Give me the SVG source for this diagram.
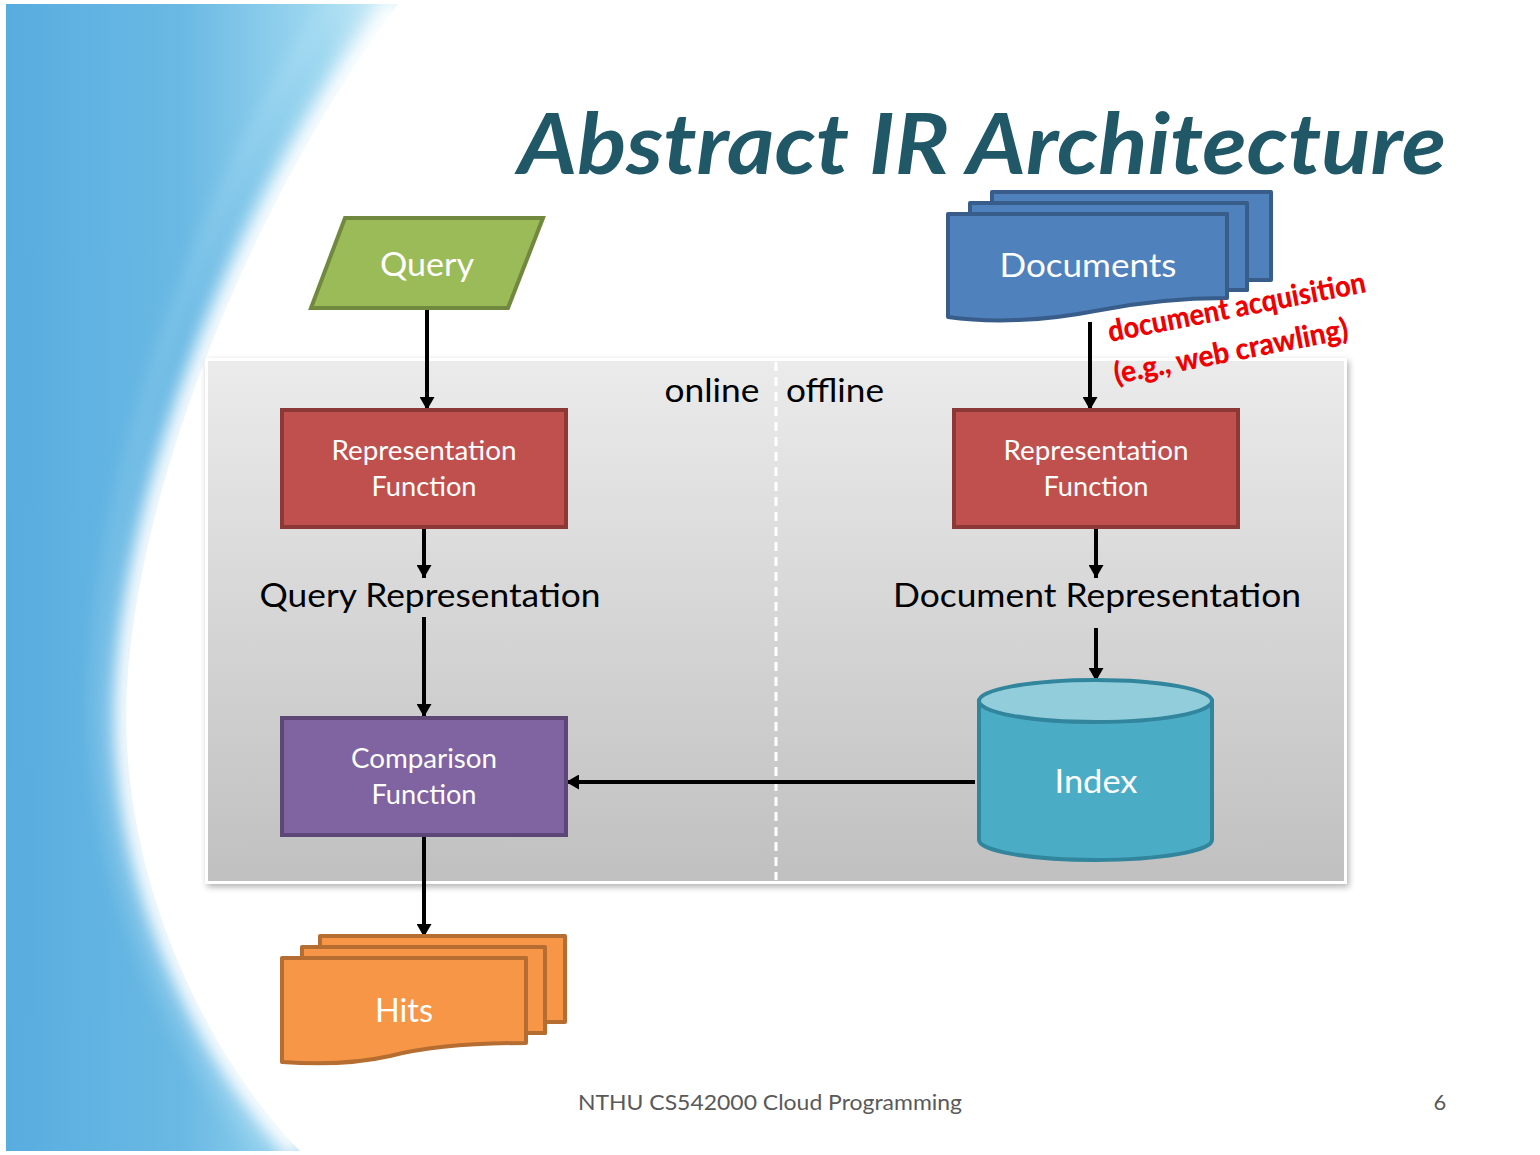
<svg xmlns="http://www.w3.org/2000/svg" width="1540" height="1155" viewBox="0 0 1540 1155">
<defs>
<linearGradient id="swoosh" gradientUnits="userSpaceOnUse" x1="6" y1="0" x2="400" y2="0">
<stop offset="0" stop-color="#58addf"/>
<stop offset="0.45" stop-color="#6ab9e4"/>
<stop offset="0.8" stop-color="#9fd8f0"/>
<stop offset="1" stop-color="#d8f1fa"/>
</linearGradient>
<linearGradient id="panel" x1="0" y1="0" x2="0" y2="1">
<stop offset="0" stop-color="#ebebeb"/>
<stop offset="1" stop-color="#c0c0c0"/>
</linearGradient>
<filter id="blur" x="-20%" y="-20%" width="140%" height="140%"><feGaussianBlur stdDeviation="9"/></filter>
<filter id="shadow" x="-5%" y="-5%" width="110%" height="110%"><feDropShadow dx="2" dy="3" stdDeviation="3" flood-color="#000" flood-opacity="0.3"/></filter>
<marker id="ah" markerWidth="13" markerHeight="15" refX="13" refY="7.5" orient="auto" markerUnits="userSpaceOnUse" viewBox="0 0 13 15">
<path d="M0,0 L13,7.5 L0,15 Z" fill="#000"/>
</marker>
<style>
.lbl{font-family:Lato,"Open Sans","Liberation Sans",sans-serif;fill:#fff;text-anchor:middle}
.blk{font-family:Lato,"Open Sans","Liberation Sans",sans-serif;fill:#000;text-anchor:middle}
.conn{stroke:#000;stroke-width:4;fill:none}
.arr{marker-end:url(#ah)}
.red{fill:#c0504d;stroke:#8c3836;stroke-width:4}
</style>
</defs>
<rect x="0" y="0" width="1540" height="1155" fill="#fff"/>
<g id="background">
<path d="M6,4 L398,4 C230,230 110,560 128,760 C140,920 220,1070 300,1151 L6,1151 Z" fill="url(#swoosh)"/>
<path d="M398,4 C230,230 110,560 128,760 C140,920 220,1070 300,1151" fill="none" stroke="#fff" stroke-width="26" filter="url(#blur)"/>
<path d="M330,4 C180,230 80,560 100,760 C112,920 190,1070 262,1151" fill="none" stroke="#cdeefa" stroke-width="6" opacity="0.5" filter="url(#blur)"/>
</g>
<text x="982" y="174" font-family="Lato,'Liberation Sans',sans-serif" font-weight="bold" font-style="italic" font-size="84" fill="#215868" text-anchor="middle" textLength="928" lengthAdjust="spacingAndGlyphs">Abstract IR Architecture</text>
<g id="panel-box">
<rect x="205" y="358" width="1142" height="526" fill="#fff" filter="url(#shadow)"/>
<rect x="208" y="361" width="1136" height="520" fill="url(#panel)"/>
<line x1="776" y1="362" x2="776" y2="880" stroke="#fff" stroke-width="3" stroke-dasharray="9,6"/>
<text x="712" y="402" class="blk" font-size="32" textLength="95" lengthAdjust="spacingAndGlyphs">online</text>
<text x="835" y="402" class="blk" font-size="32" textLength="98" lengthAdjust="spacingAndGlyphs">offline</text>
</g>
<g id="connectors">
<line class="conn arr" x1="427" y1="308" x2="427" y2="410"/>
<line class="conn arr" x1="424" y1="527" x2="424" y2="578"/>
<line class="conn arr" x1="424" y1="617" x2="424" y2="717"/>
<line class="conn arr" x1="424" y1="835" x2="424" y2="937"/>
<line class="conn arr" x1="1090" y1="322" x2="1090" y2="410"/>
<line class="conn arr" x1="1096" y1="527" x2="1096" y2="578"/>
<line class="conn arr" x1="1096" y1="628" x2="1096" y2="681"/>
<line class="conn arr" x1="975" y1="782" x2="566" y2="782"/>
</g>
<g id="query">
<path d="M345,218 L543,218 L508,308 L311,308 Z" fill="#9bbb59" stroke="#71893f" stroke-width="4"/>
<text x="427" y="276" class="lbl" font-size="32" textLength="94" lengthAdjust="spacingAndGlyphs">Query</text>
</g>
<g id="rep-func-query">
<rect x="282" y="410" width="284" height="117" class="red"/>
<text x="424" y="460" class="lbl" font-size="26" textLength="185" lengthAdjust="spacingAndGlyphs">Representation</text>
<text x="424" y="496" class="lbl" font-size="26" textLength="105" lengthAdjust="spacingAndGlyphs">Function</text>
</g>
<g id="query-representation">
<text x="430" y="607" class="blk" font-size="32" textLength="341" lengthAdjust="spacingAndGlyphs">Query Representation</text>
</g>
<g id="comparison-function">
<rect x="282" y="718" width="284" height="117" fill="#8064a2" stroke="#5c4776" stroke-width="4"/>
<text x="424" y="768" class="lbl" font-size="26" textLength="146" lengthAdjust="spacingAndGlyphs">Comparison</text>
<text x="424" y="804" class="lbl" font-size="26" textLength="105" lengthAdjust="spacingAndGlyphs">Function</text>
</g>
<g id="hits">
<g fill="#f79646" stroke="#b66d31" stroke-width="4" stroke-linejoin="round">
<path d="M320,936 L565,936 L565,1022 L545,1022 L545,1033 L526,1033 L526,958 L320,958 Z"/>
<path d="M302,947 L545,947 L545,1033 L526,1033 L526,958 L302,958 Z"/>
<path d="M282,958 L526,958 L526,1043 C480,1043 430,1046 390,1056 C350,1065 310,1064 282,1062 Z"/>
</g>
<text x="404" y="1022" class="lbl" font-size="32" textLength="58" lengthAdjust="spacingAndGlyphs">Hits</text>
</g>
<g id="documents">
<g fill="#4f81bd" stroke="#385d8a" stroke-width="4" stroke-linejoin="round">
<path d="M992,192 L1271,192 L1271,280 L1247,280 L1247,290 L1227,290 L1227,214 L992,214 Z"/>
<path d="M970,203 L1247,203 L1247,290 L1227,290 L1227,214 L970,214 Z"/>
<path d="M948,214 L1227,214 L1227,298 C1180,298 1140,302 1095,311 C1045,321 990,323 948,317 Z"/>
</g>
<text x="1088" y="277" class="lbl" font-size="32" textLength="177" lengthAdjust="spacingAndGlyphs">Documents</text>
</g>
<g id="doc-acquisition-label" font-family="Lato,'Open Sans','Liberation Sans',sans-serif" font-weight="900" font-size="30" fill="#f00000">
<text transform="translate(1110,342) rotate(-11)" textLength="262" lengthAdjust="spacingAndGlyphs">document acquisition</text>
<text transform="translate(1116,384) rotate(-11)" textLength="238" lengthAdjust="spacingAndGlyphs">(e.g., web crawling)</text>
</g>
<g id="rep-func-doc">
<rect x="954" y="410" width="284" height="117" class="red"/>
<text x="1096" y="460" class="lbl" font-size="26" textLength="185" lengthAdjust="spacingAndGlyphs">Representation</text>
<text x="1096" y="496" class="lbl" font-size="26" textLength="105" lengthAdjust="spacingAndGlyphs">Function</text>
</g>
<g id="document-representation">
<text x="1097" y="607" class="blk" font-size="32" textLength="408" lengthAdjust="spacingAndGlyphs">Document Representation</text>
</g>
<g id="index">
<path d="M979,701 L979,840 A116.5,20 0 0 0 1212,840 L1212,701 Z" fill="#4bacc6" stroke="#31859c" stroke-width="4"/>
<ellipse cx="1095.5" cy="701" rx="116.5" ry="21" fill="#92cddc" stroke="#31859c" stroke-width="4"/>
<text x="1096" y="793" class="lbl" font-size="32" textLength="83" lengthAdjust="spacingAndGlyphs">Index</text>
</g>
<g id="footer">
<text x="770" y="1110" font-family="Lato,'Open Sans','Liberation Sans',sans-serif" font-size="22" fill="#595959" text-anchor="middle" textLength="384" lengthAdjust="spacingAndGlyphs">NTHU CS542000 Cloud Programming</text>
<text x="1440" y="1110" font-family="Lato,'Open Sans','Liberation Sans',sans-serif" font-size="22" fill="#595959" text-anchor="middle">6</text>
</g>
</svg>
